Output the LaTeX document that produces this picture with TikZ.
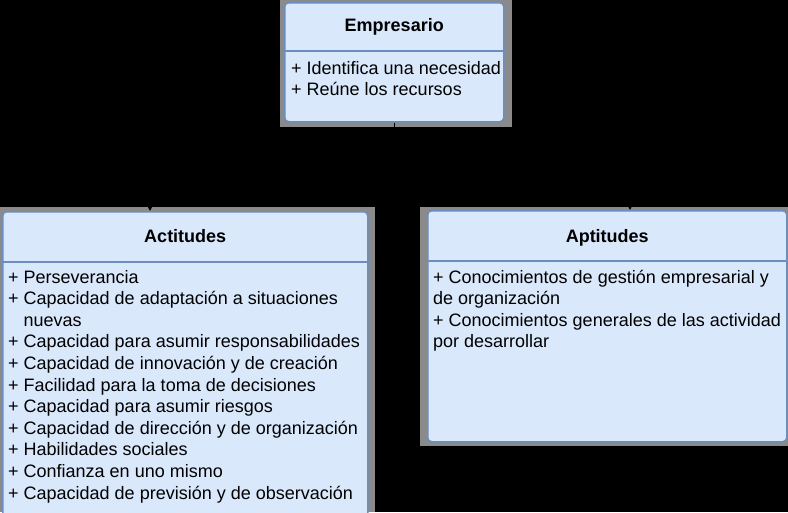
\documentclass[tikz,border=0pt]{standalone}
\usepackage{fontspec}
\setmainfont{Liberation Sans}
\usetikzlibrary{arrows.meta}
\definecolor{boxfill}{HTML}{DAE8FC}
\definecolor{boxline}{HTML}{6C8EBF}
\definecolor{halogray}{HTML}{8A8A8A}

\tikzset{
		classbox/.style = {shape=rectangle, rounded corners=4pt,
				draw=boxline, fill=boxfill, line width=1.5pt,
				anchor=north west, inner sep=0pt},
		halo/.style     = {fill=halogray, draw=none},
		divider/.style  = {draw=boxline, line width=1.5pt},
		title/.style    = {font=\bfseries\fontsize{18}{21.6}\selectfont, anchor=base, inner sep=0pt},
		attrs/.style    = {font=\fontsize{18}{21.6}\selectfont, align=left, anchor=base west, inner sep=0pt},
		link/.style     = {draw=black, line width=1.5pt, -{Triangle[length=7pt,width=7pt]}}
	}

\begin{document}
\begin{tikzpicture}
				[x=1pt, y=-1pt]
				\useasboundingbox (0,0) rectangle (788,512);
				\fill[black] (0,0) rectangle (788,512);
				% gray frames behind the boxes
				\fill[halo] (280,0) rectangle (512,127);
				\fill[halo] (0,207) rectangle (375,512);
				\fill[halo] (420,207) rectangle (788,446);
				% boxes
				\node[classbox, minimum width=219pt, minimum height=119pt] (emp) at (284,2) {};
				\node[classbox, minimum width=365pt, minimum height=306pt] (act) at (2,211) {};
				\node[classbox, minimum width=359pt, minimum height=231pt] (apt) at (427,210) {};
				\draw[divider] ([yshift=-49pt]emp.north west) -- ([yshift=-49pt]emp.north east);
				\draw[divider] ([yshift=-51pt]act.north west) -- ([yshift=-51pt]act.north east);
				\draw[divider] ([yshift=-51pt]apt.north west) -- ([yshift=-51pt]apt.north east);
				\node[title] (empTitle) at ([yshift=-29pt]emp.north) {Empresario};
				\node[title] (actTitle) at ([yshift=-31pt]act.north) {Actitudes};
				\node[title] (aptTitle) at ([yshift=-32pt]apt.north) {Aptitudes};
				% base of each list = baseline of its last line
				\node[attrs] (empAttrs) at ([xshift=7pt,yshift=-93.6pt]emp.north west)
					{+ Identifica una necesidad\\+ Reúne los recursos};
				\node[attrs] (actAttrs) at ([xshift=6pt,yshift=-288pt]act.north west)
					{+ Perseverancia\\
					+ Capacidad de adaptación a situaciones\\
					\phantom{+ }nuevas\\
					+ Capacidad para asumir responsabilidades\\
					+ Capacidad de innovación y de creación\\
					+ Facilidad para la toma de decisiones\\
					+ Capacidad para asumir riesgos\\
					+ Capacidad de dirección y de organización\\
					+ Habilidades sociales\\
					+ Confianza en uno mismo\\
					+ Capacidad de previsión y de observación};
				\node[attrs] (aptAttrs) at ([xshift=6pt,yshift=-137.8pt]apt.north west)
					{+ Conocimientos de gestión empresarial y\\
					de organización\\
					+ Conocimientos generales de las actividad\\
					por desarrollar};
				% connectors
				\coordinate (fork) at (394,166);
				\draw[link] (emp.south) -- (emp.south |- fork) -| ([xshift=148pt]act.north west);
				\draw[link] (emp.south) -- (emp.south |- fork) -| ([xshift=203pt]apt.north west);
			\end{tikzpicture}
\end{document}
